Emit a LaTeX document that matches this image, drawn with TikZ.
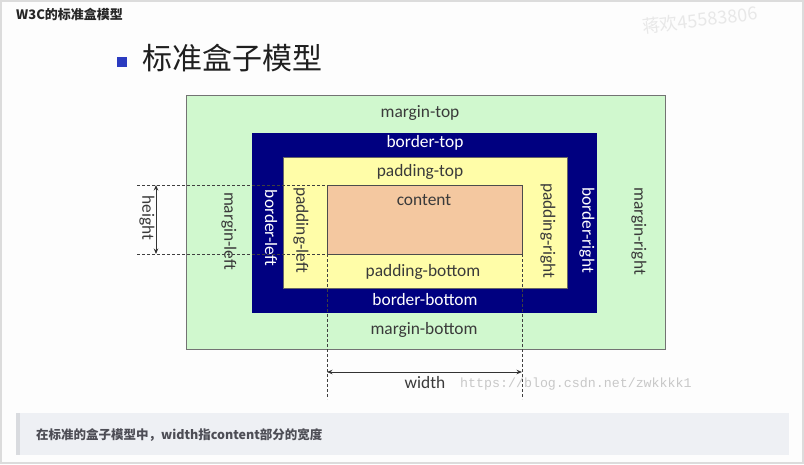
\documentclass[tikz,border=0pt]{standalone}
\usepackage{fontspec}
\setmainfont{Carlito}
\newfontfamily\cjk{Noto Sans CJK SC}
\newfontfamily\urlfont{Liberation Mono}
\usetikzlibrary{arrows.meta}
\definecolor{pagegray}{HTML}{DCDCDC}
\definecolor{pagewhite}{HTML}{FDFDFD}
\definecolor{margingreen}{HTML}{D0F8CE}
\definecolor{bordernavy}{HTML}{000080}
\definecolor{padyellow}{HTML}{FFFDA8}
\definecolor{contentpeach}{HTML}{F4C8A0}
\definecolor{labelgray}{HTML}{3A3A3A}
\definecolor{capbg}{HTML}{EEF0F4}
\definecolor{capbar}{HTML}{D9DBDF}
\definecolor{captext}{HTML}{4D4D55}
\definecolor{wmgray}{HTML}{C8C8C8}
\definecolor{bullet}{HTML}{2B3BC0}
\tikzset{
  lbl/.style={font=\fontsize{17.4}{20}\selectfont, text=labelgray, inner sep=0pt},
  wlbl/.style={lbl, text=white},
  vlbl/.style={lbl, rotate=-90},
  wvlbl/.style={wlbl, rotate=-90},
  guide/.style={draw=black!75, dashed, dash pattern=on 3pt off 2pt, line width=0.7pt},
  dimarrow/.style={draw=black!80, line width=0.9pt, {Stealth[length=5.5pt,width=4.5pt]}-{Stealth[length=5.5pt,width=4.5pt]}},
}
\begin{document}
\begin{tikzpicture}[x=1pt,y=-1pt]
\useasboundingbox (0,0) rectangle (804,464);
% page
\fill[pagegray] (0,0) rectangle (804,464);
\fill[pagewhite] (2,2) rectangle (802,462);
% title
\node[anchor=west, inner sep=0pt, font=\cjk\bfseries\fontsize{13}{15}\selectfont, text=black!85] (title) at (16,14) {W3C的标准盒模型};
% watermark
\node[anchor=west, inner sep=0pt, rotate=7, font=\cjk\fontsize{18}{20}\selectfont, text=black!9] (wm) at (642,27) {蒋欢45583806};
% heading
\fill[bullet] (117,57) rectangle (127,67);
\node[anchor=west, inner sep=0pt, font=\cjk\fontsize{30}{34}\selectfont, text=black!88] (head) at (142,58) {标准盒子模型};
% boxes
\filldraw[fill=margingreen, draw=black!55, line width=0.9pt] (186,95) rectangle (665,349);
\fill[bordernavy] (252,133) rectangle (597,313);
\filldraw[fill=padyellow, draw=black!60, line width=0.4pt] (283,157) rectangle (567,288);
\filldraw[fill=contentpeach, draw=black!70, line width=0.8pt] (327,185) rectangle (522,254);
% coordinates
\coordinate (ctl) at (327,185);
\coordinate (cbl) at (327,254);
\coordinate (cbr) at (522,254);
\coordinate (hl1) at (137,185);
\coordinate (hl2) at (137,254);
\coordinate (ha1) at (156,185);
\coordinate (ha2) at (156,254);
\coordinate (vl1) at (327,399);
\coordinate (vl2) at (522,399);
\coordinate (wa1) at (327,372);
\coordinate (wa2) at (522,372);
% guides
\draw[guide] (hl1) -- (ctl);
\draw[guide] (hl2) -- (cbl);
\draw[guide] (cbl) -- (vl1);
\draw[guide] (cbr) -- (vl2);
\draw[dimarrow] (ha1) -- (ha2);
\draw[dimarrow] (wa1) -- (wa2);
% labels
\node[lbl] (mt) at (420,113) {margin-top};
\node[wlbl] (bt) at (425,143) {border-top};
\node[lbl] (pt) at (420,172) {padding-top};
\node[lbl] (ct) at (424,200) {content};
\node[lbl] (pb) at (423,272) {padding-bottom};
\node[wlbl] (bb) at (425,300) {border-bottom};
\node[lbl] (mb) at (424,330) {margin-bottom};
\node[vlbl] (ml) at (229,231) {margin-left};
\node[wvlbl] (bl) at (271,228) {border-left};
\node[vlbl] (pl) at (301,230) {padding-left};
\node[vlbl] (pr) at (548,231) {padding-right};
\node[wvlbl] (br) at (587,230) {border-right};
\node[vlbl] (mr) at (639,231) {margin-right};
\node[vlbl] (hgt) at (147,218) {height};
\node[lbl] (wid) at (425,383) {width};
\node[anchor=west, inner sep=0pt, font=\urlfont\fontsize{13.3}{15}\selectfont, text=wmgray] (url) at (460,384) {https://blog.csdn.net/zwkkkk1};
% caption
\fill[capbg] (16,413) rectangle (789,455);
\fill[capbar] (16,413) rectangle (20,455);
\node[anchor=west, inner sep=0pt, font=\cjk\bfseries\fontsize{12.5}{14}\selectfont, text=captext] (cap) at (36,435) {在标准的盒子模型中，width指content部分的宽度};
\end{tikzpicture}
\end{document}
